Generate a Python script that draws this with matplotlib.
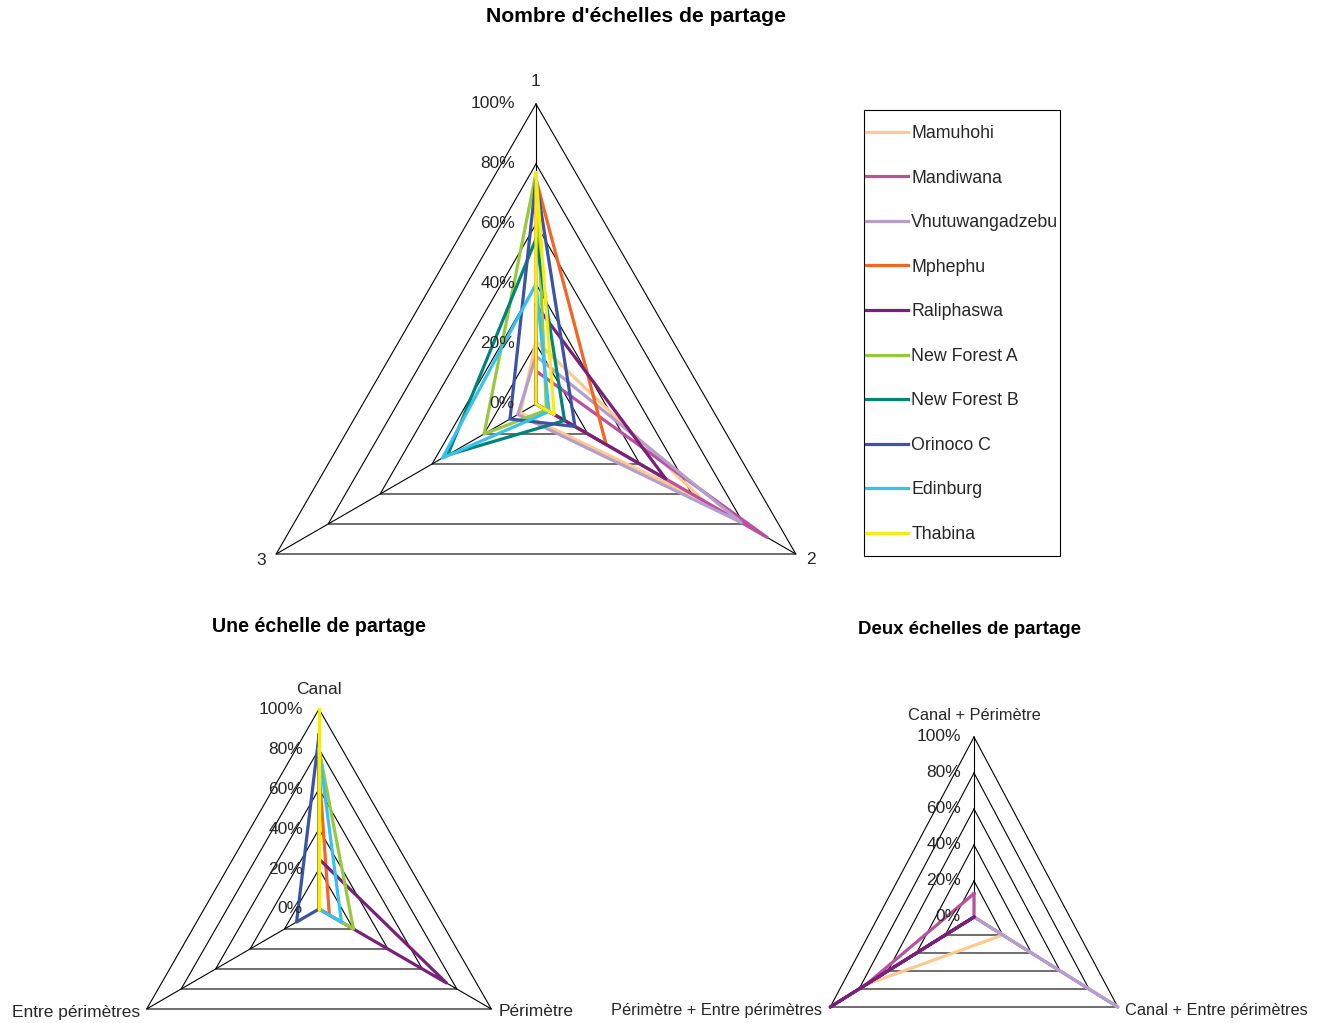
import matplotlib.pyplot as plt
import numpy as np
from matplotlib.patches import Rectangle

plt.rcParams['font.family'] = ['Liberation Sans', 'DejaVu Sans']

# sites and their colours (legend order = drawing order)
sites = ['Mamuhohi', 'Mandiwana', 'Vhutuwangadzebu', 'Mphephu', 'Raliphaswa',
         'New Forest A', 'New Forest B', 'Orinoco C', 'Edinburg', 'Thabina']
colors = ['#fcc990', '#b8519f', '#b79dcc', '#f26522', '#78217a',
          '#97c93d', '#00847a', '#3a53a4', '#35c2ef', '#f6eb14']

# Nombre d'échelles de partage (axes 1, 2, 3)
nombre_axes = ['1', '2', '3']
nombre_vals = [
    [0.21, 0.645, 0.06],
    [0.11, 0.89, 0.00],
    [0.16, 0.79, 0.07],
    [0.75, 0.27, 0.00],
    [0.33, 0.50, 0.00],
    [0.77, 0.04, 0.20],
    [0.55, 0.11, 0.34],
    [0.75, 0.15, 0.10],
    [0.40, 0.05, 0.36],
    [0.77, 0.07, 0.00],
]

# Une échelle de partage
une_axes = ['Canal', 'Périmètre', 'Entre périmètres']
une_vals = [
    [0.00, 0.00, 0.00],
    [0.00, 0.00, 0.00],
    [0.00, 0.00, 0.00],
    [0.70, 0.06, 0.00],
    [0.25, 0.74, 0.00],
    [0.80, 0.20, 0.00],
    [0.00, 0.00, 0.00],
    [0.87, 0.00, 0.13],
    [0.80, 0.13, 0.00],
    [1.00, 0.00, 0.00],
]

# Deux échelles de partage
deux_axes = ['Canal + Périmètre', 'Canal + Entre périmètres', 'Périmètre + Entre périmètres']
deux_vals = [
    [0.00, 0.20, 0.75],
    [0.13, 0.00, 0.75],
    [0.00, 1.00, 0.00],
    [0.00, 0.00, 0.00],
    [0.00, 0.00, 1.00],
    [0.00, 0.00, 0.00],
    [0.00, 0.00, 0.00],
    [0.00, 0.00, 0.00],
    [0.00, 0.00, 0.00],
    [0.00, 0.00, 0.00],
]

levels = [0.0, 0.2, 0.4, 0.6, 0.8, 1.0]
level_labels = ['0%', '20%', '40%', '60%', '80%', '100%']

W, H = 1322, 1023
TXT = '#262626'


def draw_radar(fig, cx, cy, rx, ry, cats, vals, tick_dx, cat_off, cat_size=12.5):
    # polar axes placed by pixel centre / radii
    rect = [(cx - rx) / W, 1 - (cy + ry) / H, 2 * rx / W, 2 * ry / H]
    ax = fig.add_axes(rect, projection='polar')
    ax.set_theta_offset(np.pi / 2)
    ax.set_theta_direction(-1)
    ax.set_ylim(0, 1)
    ax.set_aspect('auto')
    ax.set_axis_off()

    theta = np.arange(len(cats)) * 2 * np.pi / len(cats)
    closed = np.append(theta, theta[0])

    # triangular grid
    for lev in levels[1:]:
        ax.plot(closed, [lev] * len(closed), color='black', lw=0.8, clip_on=False, zorder=1)
    for t in theta:
        ax.plot([t, t], [0, 1], color='black', lw=0.8, clip_on=False, zorder=1)

    # series
    lines = []
    for v, c, name in zip(vals, colors, sites):
        if max(v) == 0:
            lines.append(None)
            continue
        ln, = ax.plot(closed, v + [v[0]], color=c, lw=2.3, label=name,
                      solid_joinstyle='round', clip_on=False, zorder=2)
        lines.append(ln)

    # percentage labels along the first axis
    for lev, lab in zip(levels, level_labels):
        ax.annotate(lab, xy=(0, lev), xytext=(tick_dx, 0), textcoords='offset pixels',
                    ha='right', va='center', fontsize=12.5, color=TXT, zorder=3)

    # category labels
    for t, cat, (dx, dy, ha) in zip(theta, cats, cat_off):
        ax.annotate(cat, xy=(t, 1), xytext=(dx, dy), textcoords='offset pixels',
                    ha=ha, va='center', fontsize=cat_size, color=TXT)
    return ax, lines


fig = plt.figure(figsize=(W / 100, H / 100), dpi=100)

ax1, lines1 = draw_radar(fig, 536, 404, 300, 300, nombre_axes, nombre_vals, -21,
                         [(0, 23, 'center'), (15, -6, 'center'), (-15, -6, 'center')])
ax2, _ = draw_radar(fig, 319, 909, 199, 200, une_axes, une_vals, -16,
                    [(0, 20, 'center'), (7, -3, 'left'), (-7, -3, 'right')])
ax3, _ = draw_radar(fig, 974, 917, 166, 180, deux_axes, deux_vals, -13,
                    [(0, 21, 'center'), (7, -4, 'left'), (-8, -4, 'right')], cat_size=11.8)

fig.text(636 / W, 1 - 17 / H, "Nombre d'échelles de partage", ha='center', va='center',
         fontsize=15.2, fontweight='bold', color='black')
fig.text(319 / W, 1 - 626 / H, "Une échelle de partage", ha='center', va='center',
         fontsize=14.1, fontweight='bold', color='black')
fig.text(970 / W, 1 - 629 / H, "Deux échelles de partage", ha='center', va='center',
         fontsize=13.4, fontweight='bold', color='black')

# legend with a plain rectangular frame
fig.patches.append(Rectangle((864 / W, 1 - 556 / H), 196 / W, 446 / H, transform=fig.transFigure,
                             fill=False, edgecolor='black', lw=0.8))
fig.legend(lines1, sites, loc='upper left', bbox_to_anchor=(866 / W, 1 - 125 / H),
           frameon=False, fontsize=12.8, handlelength=2.35, handletextpad=0.2,
           labelspacing=1.55, borderpad=0, borderaxespad=0, labelcolor=TXT)

fig.savefig('out.png', dpi=100)
